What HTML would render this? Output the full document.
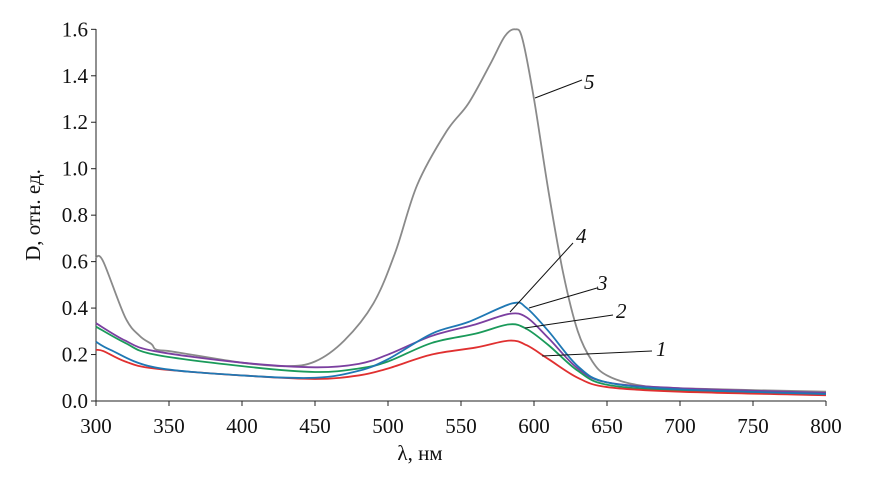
<!DOCTYPE html>
<html><head><meta charset="utf-8"><style>
html,body{margin:0;padding:0;background:#fff;}
svg{display:block;font-family:"Liberation Serif",serif;}
</style></head><body>
<svg id="s" width="875" height="480" xmlns="http://www.w3.org/2000/svg">
<g stroke="#222" stroke-width="1" fill="none">
<line x1="96" y1="29" x2="96" y2="401"/>
<line x1="96" y1="401" x2="826" y2="401"/>
</g>
<g id="ticks" stroke="#222" stroke-width="1"></g>
<g id="labels" font-size="21" fill="#111"></g>
<g id="curves" fill="none" stroke-width="1.8"></g>
<g stroke="#111" stroke-width="1">
<line x1="535" y1="98" x2="582" y2="80"/>
<line x1="510" y1="312" x2="573" y2="243"/>
<line x1="529" y1="308" x2="597" y2="288"/>
<line x1="525" y1="328" x2="613" y2="315"/>
<line x1="542" y1="356" x2="652" y2="351"/>
</g>
<g font-size="21" font-style="italic" fill="#111">
<text x="584" y="89">5</text>
<text x="576" y="243">4</text>
<text x="597" y="290">3</text>
<text x="616" y="318">2</text>
<text x="656" y="356">1</text>
</g>
<text x="420" y="460" font-size="21" text-anchor="middle" fill="#111">λ, нм</text>
<text transform="translate(40,215) rotate(-90)" font-size="21" text-anchor="middle" fill="#111">D, отн. ед.</text>
</svg>
<script>
var X=function(l){return 96+(l-300)*1.46;},Y=function(v){return 401-v*232.3;};
var ns="http://www.w3.org/2000/svg";
var t=document.getElementById('ticks'),lb=document.getElementById('labels');
function el(p,n,a,txt){var e=document.createElementNS(ns,n);for(var k in a)e.setAttribute(k,a[k]);if(txt)e.textContent=txt;p.appendChild(e);}
for(var l=300;l<=800;l+=50){el(t,'line',{x1:X(l),x2:X(l),y1:401,y2:406});el(lb,'text',{x:X(l),y:433,'text-anchor':'middle'},String(l));}
for(var v=0;v<=1.6001;v+=0.2){el(t,'line',{x1:91,x2:96,y1:Y(v),y2:Y(v)});el(lb,'text',{x:88,y:Y(v)+7,'text-anchor':'end'},v.toFixed(1));}
var D={
'#8a8a8a':[[300,0.62],[305,0.6],[320,0.36],[330,0.28],[338,0.245],[341,0.222],[350,0.215],[360,0.205],[400,0.165],[430,0.15],[450,0.17],[470,0.26],[490,0.42],[505,0.64],[520,0.93],[540,1.16],[555,1.28],[570,1.45],[580,1.57],[587,1.6],[592,1.56],[600,1.3],[610,0.9],[620,0.55],[630,0.3],[640,0.17],[650,0.11],[670,0.07],[700,0.055],[800,0.04]],
'#7b3fa0':[[300,0.335],[320,0.26],[340,0.215],[400,0.165],[450,0.145],[480,0.16],[500,0.2],[530,0.28],[560,0.33],[583,0.375],[595,0.36],[610,0.27],[630,0.14],[650,0.08],[700,0.055],[800,0.035]],
'#1a9a5a':[[300,0.32],[320,0.25],[340,0.2],[400,0.15],[450,0.125],[480,0.14],[500,0.17],[530,0.25],[560,0.29],[583,0.33],[595,0.31],[610,0.24],[630,0.13],[650,0.07],[700,0.045],[800,0.03]],
'#e03030':[[300,0.22],[305,0.215],[320,0.17],[340,0.14],[400,0.11],[450,0.095],[480,0.11],[500,0.14],[530,0.2],[560,0.23],[583,0.26],[595,0.24],[610,0.18],[630,0.1],[650,0.06],[700,0.04],[800,0.025]],
'#1f78b4':[[300,0.255],[310,0.22],[340,0.145],[400,0.11],[450,0.1],[480,0.13],[500,0.18],[530,0.29],[555,0.34],[585,0.42],[595,0.40],[610,0.3],[630,0.15],[650,0.08],[700,0.05],[800,0.03]]
};
var c=document.getElementById('curves');
for(var col in D){var p=D[col].map(function(q){return [X(q[0]),Y(q[1])];});
var d='M'+p[0][0]+','+p[0][1];
for(var i=0;i<p.length-1;i++){var p0=p[i-1]||p[i],p1=p[i],p2=p[i+1],p3=p[i+2]||p2;
d+=' C'+(p1[0]+(p2[0]-p0[0])/6)+','+(p1[1]+(p2[1]-p0[1])/6)+' '+(p2[0]-(p3[0]-p1[0])/6)+','+(p2[1]-(p3[1]-p1[1])/6)+' '+p2[0]+','+p2[1];}
el(c,'path',{d:d,stroke:col});}
</script>
</body></html>
